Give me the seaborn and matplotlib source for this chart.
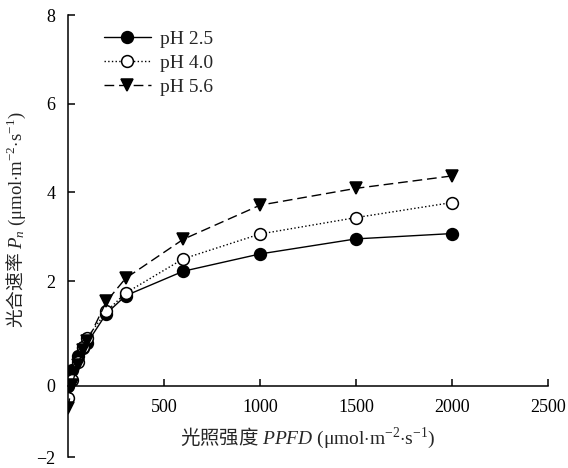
import numpy as np
import matplotlib
matplotlib.use("Agg")
import matplotlib.pyplot as plt
import seaborn as sns

# Light-response data: net photosynthetic rate vs. photon flux density
ppfd = [0, 20, 50, 80, 100, 200, 300, 600, 1000, 1500, 2000]
pn_ph25 = [0.00, 0.30, 0.58, 0.72, 0.82, 1.38, 1.72, 2.22, 2.61, 2.95, 3.07]
pn_ph40 = [-0.35, 0.12, 0.45, 0.75, 0.92, 1.42, 1.77, 2.50, 3.06, 3.43, 3.77]
pn_ph56 = [-0.62, 0.02, 0.40, 0.68, 0.85, 1.61, 2.06, 2.94, 3.71, 4.09, 4.37]
series_labels = ["pH 2.5", "pH 4.0", "pH 5.6"]
x_ticks = [500, 1000, 1500, 2000, 2500]
y_ticks = [-2, 0, 2, 4, 6, 8]

sns.set_style("ticks")
plt.rcParams["font.family"] = ["Liberation Serif", "Noto Sans CJK SC", "DejaVu Sans"]
plt.rcParams["mathtext.fontset"] = "custom"
plt.rcParams["mathtext.rm"] = "Liberation Serif"
plt.rcParams["mathtext.it"] = "Liberation Serif:italic"
plt.rcParams["mathtext.bf"] = "Liberation Serif:bold"
plt.rcParams["axes.unicode_minus"] = True

fig = plt.figure(figsize=(5.68, 4.68), dpi=100)
ax = fig.add_axes([68 / 568, 1 - 457 / 468, 480 / 568, 442 / 468])

# Piecewise-linear vertical scale (segment lengths of the printed axis)
_y_knots = [-102.0, -2.0, 0.0, 2.0, 8.0, 108.0]
_y_pos = [-3550.0, 0.0, 71.0, 176.0, 442.0, 4875.0]


def _fwd(v):
    return np.interp(v, _y_knots, _y_pos)


def _inv(p):
    return np.interp(p, _y_pos, _y_knots)


ax.set_yscale("function", functions=(_fwd, _inv))

styles = [
    dict(marker="o", linestyle="-", markerfacecolor="black"),
    dict(marker="o", linestyle=":", markerfacecolor="white"),
    dict(marker="v", linestyle=(0, (7, 3.5)), markerfacecolor="black"),
]
for vals, lab, st in zip([pn_ph25, pn_ph40, pn_ph56], series_labels, styles):
    sns.lineplot(x=ppfd, y=vals, ax=ax, color="black", linewidth=1.0,
                 markersize=8.5, markeredgecolor="black", markeredgewidth=1.1,
                 label=lab, **st)

ax.set_xlim(0, 2500)
ax.set_ylim(-2, 8)
ax.set_xticks(x_ticks)
ax.set_yticks(y_ticks)

for side in ("top", "right"):
    ax.spines[side].set_visible(False)
ax.spines["bottom"].set_position(("data", 0))
for side in ("left", "bottom"):
    ax.spines[side].set_linewidth(1.1)
    ax.spines[side].set_color("black")

ax.tick_params(axis="both", direction="in", length=5, width=1.1,
               labelsize=13, colors="black", pad=9)

label_fonts = ["Noto Sans CJK SC", "Liberation Serif"]
ax.set_xlabel(r"光照强度 $\mathit{PPFD}\ \mathrm{(\mu mol{\cdot}m^{-2}{\cdot}s^{-1})}$",
              fontsize=14, family=label_fonts)
ax.set_ylabel(r"光合速率 $P_n\ \mathrm{(\mu mol{\cdot}m^{-2}{\cdot}s^{-1})}$",
              fontsize=13.5, family=label_fonts)
ax.xaxis.set_label_coords(0.5, 0.07)
ax.yaxis.set_label_coords(-0.083, 0.536)

leg = ax.legend(loc="upper left", bbox_to_anchor=(0.075, 0.965), frameon=False,
                fontsize=14, handlelength=2.4, handletextpad=0.5,
                labelspacing=0.33, borderpad=0, borderaxespad=0)

fig.savefig("out.png", dpi=100)
